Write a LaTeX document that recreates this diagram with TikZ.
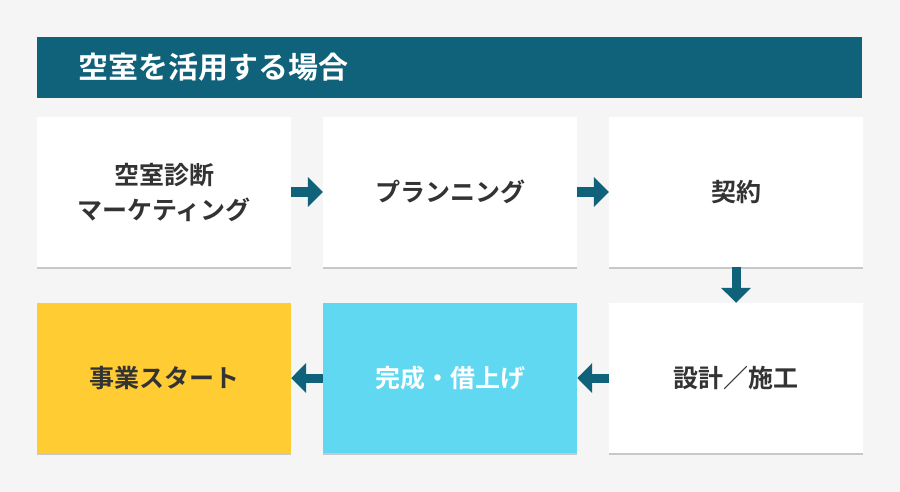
\documentclass[tikz,border=0pt]{standalone}
\usepackage{fontspec}
\setmainfont{Noto Sans CJK JP}[BoldFont={Noto Sans CJK JP Bold}]
\usetikzlibrary{arrows.meta,shadows}
\definecolor{headteal}{HTML}{10617A}
\definecolor{pagegray}{HTML}{F5F5F5}
\definecolor{shadegray}{HTML}{C8C8C8}
\definecolor{textgray}{HTML}{333333}
\definecolor{startyellow}{HTML}{FFCC33}
\definecolor{doneblue}{HTML}{60D8F2}
\begin{document}
\begin{tikzpicture}[x=1pt,y=-1pt,
  stepbox/.style={fill=white, minimum width=254pt, minimum height=150pt, inner sep=0pt,
    align=center, text=textgray, font=\bfseries\fontsize{25}{35}\selectfont,
    drop shadow={shadow xshift=0pt, shadow yshift=-2pt, fill=shadegray, opacity=1}},
  flow/.style={draw=headteal, line width=9pt, -{Triangle[length=15pt,width=29pt]}}]
\useasboundingbox[fill=pagegray] (0,0) rectangle (900,492);
\node[fill=headteal, minimum height=61pt, text width=743pt, inner xsep=41pt, inner ysep=0pt,
  align=left, text=white, font=\bfseries\fontsize{30}{36}\selectfont] (title) at (449.5,67.5) {空室を活用する場合};
\node[stepbox] (1) at (164,192) {空室診断\\マーケティング};
\node[stepbox] (2) at (450,192) {プランニング};
\node[stepbox] (3) at (736,192) {契約};
\node[stepbox, fill=startyellow] (4) at (164,378) {事業スタート};
\node[stepbox, fill=doneblue, text=white] (5) at (450,378) {完成・借上げ};
\node[stepbox] (6) at (736,378) {設計／施工};
\path[flow] (1) -- (2);
\path[flow] (2) -- (3);
\path[flow] (3) -- (6);
\path[flow] (6) -- (5);
\path[flow] (5) -- (4);
\end{tikzpicture}
\end{document}
